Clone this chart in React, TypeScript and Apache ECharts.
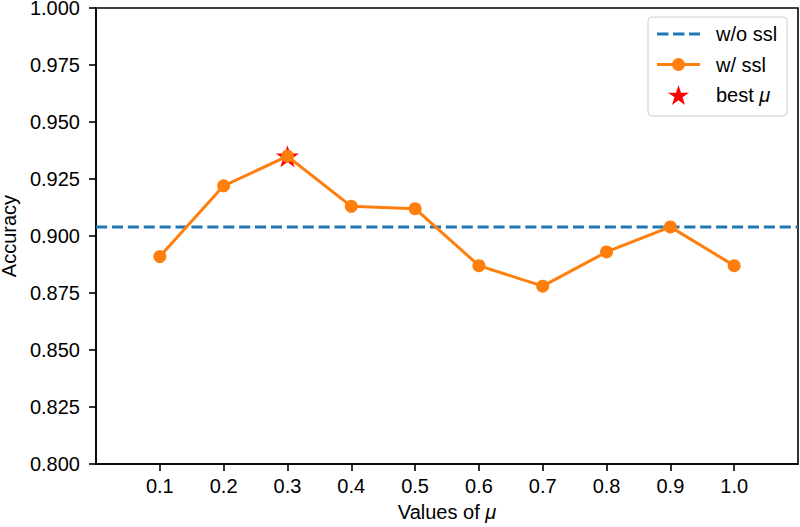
import React, { useEffect, useRef } from 'react';
import * as echarts from 'echarts';

const MU_VALUES = [0.1, 0.2, 0.3, 0.4, 0.5, 0.6, 0.7, 0.8, 0.9, 1.0];
const ACC_WITH_SSL = [0.891, 0.922, 0.935, 0.913, 0.912, 0.887, 0.878, 0.893, 0.904, 0.887];
const ACC_WITHOUT_SSL = 0.904;
const BEST_MU = 0.3;
const BEST_ACC = 0.935;
const X_RANGE = [0, 1.1];
const Y_RANGE = [0.8, 1.0];
const Y_STEP = 0.025;

const FONT = "'Liberation Sans', Arial, Helvetica, sans-serif";
const STAR =
  'path://M0,-1 L0.2245,-0.309 L0.951,-0.309 L0.363,0.118 L0.588,0.809 L0,0.382 L-0.588,0.809 L-0.363,0.118 L-0.951,-0.309 L-0.2245,-0.309 Z';
// legend handles (43 x 20 box, tiny corner marks fix the bounding box)
const ICON_DASHED =
  'path://M0,0h0.01v0.01h-0.01Z M43,19.99h0.01v0.01h-0.01Z M0,8.5H11.5V11.5H0Z M16,8.5H27.5V11.5H16Z M32,8.5H43V11.5H32Z';
const ICON_LINE_DOT =
  'path://M0,0h0.01v0.01h-0.01Z M43,19.99h0.01v0.01h-0.01Z M0,8.5H43V11.5H0Z M28,10A6.5,6.5 0 1 1 15,10A6.5,6.5 0 1 1 28,10Z';

export default function App() {
  const ref = useRef<HTMLDivElement>(null);
  useEffect(() => {
    if (!ref.current) return;
    const chart = echarts.init(ref.current, undefined, { renderer: 'svg' });
    const italic = { fontStyle: 'italic', fontSize: 20, fontFamily: FONT, color: '#000' };
    chart.setOption({
      animation: false,
      backgroundColor: '#fff',
      textStyle: { fontFamily: FONT },
      grid: {
        left: 96,
        right: 2,
        top: 8,
        bottom: 63,
        show: true,
        borderColor: '#000',
        borderWidth: 1.6,
        backgroundColor: 'transparent',
        outerBoundsMode: 'none',
      },
      legend: {
        orient: 'vertical',
        left: 648,
        top: 17,
        data: [
          { name: 'w/o ssl', icon: ICON_DASHED },
          { name: 'w/ ssl', icon: ICON_LINE_DOT },
          { name: 'best μ' },
        ],
        itemWidth: 43,
        itemHeight: 20,
        itemGap: 10.5,
        padding: [7, 10, 11, 9],
        borderColor: '#cccccc',
        borderWidth: 1,
        borderRadius: 4,
        backgroundColor: 'rgba(255,255,255,0.8)',
        formatter: (name: string) => (name === 'best μ' ? 'best {i|μ}' : name),
        textStyle: {
          fontFamily: FONT,
          fontSize: 20,
          lineHeight: 20,
          color: '#000',
          padding: [0, 0, 0, 11],
          rich: { i: italic },
        },
      },
      xAxis: {
        type: 'value',
        min: X_RANGE[0],
        max: X_RANGE[1],
        interval: 0.1,
        name: 'Values of {i|μ}',
        nameLocation: 'middle',
        nameGap: 38,
        nameTextStyle: { fontSize: 20, color: '#000', fontFamily: FONT, rich: { i: italic } },
        axisLine: { show: true, onZero: false, lineStyle: { color: '#000', width: 1.6 } },
        axisTick: {
          show: true,
          inside: false,
          length: 7,
          customValues: MU_VALUES,
          lineStyle: { color: '#000', width: 1.6 },
        },
        axisLabel: {
          customValues: MU_VALUES,
          margin: 12,
          fontSize: 20,
          color: '#000',
          fontFamily: FONT,
          formatter: (v: number) => v.toFixed(1),
        },
        splitLine: { show: false },
      },
      yAxis: {
        type: 'value',
        min: Y_RANGE[0],
        max: Y_RANGE[1],
        interval: Y_STEP,
        name: 'Accuracy',
        nameLocation: 'middle',
        nameGap: 73,
        nameTextStyle: { fontSize: 20, lineHeight: 16, color: '#000', fontFamily: FONT },
        axisLine: { show: true, lineStyle: { color: '#000', width: 1.6 } },
        axisTick: { show: true, inside: false, length: 7, lineStyle: { color: '#000', width: 1.6 } },
        axisLabel: {
          margin: 16,
          fontSize: 20,
          lineHeight: 16,
          color: '#000',
          fontFamily: FONT,
          formatter: (v: number) => v.toFixed(3),
        },
        splitLine: { show: false },
      },
      series: [
        {
          name: 'w/o ssl',
          type: 'line',
          data: [
            [X_RANGE[0], ACC_WITHOUT_SSL],
            [X_RANGE[1], ACC_WITHOUT_SSL],
          ],
          symbol: 'none',
          z: 2,
          lineStyle: { color: '#1f77b4', width: 3, type: [11.1, 4.8] },
          itemStyle: { color: '#1f77b4' },
        },
        {
          name: 'best μ',
          type: 'scatter',
          data: [[BEST_MU, BEST_ACC]],
          symbol: STAR,
          symbolKeepAspect: true,
          symbolSize: 23,
          z: 3,
          itemStyle: { color: '#ff0000', opacity: 1 },
        },
        {
          name: 'w/ ssl',
          type: 'line',
          data: MU_VALUES.map((m, i) => [m, ACC_WITH_SSL[i]]),
          symbol: 'circle',
          symbolSize: 13,
          showSymbol: true,
          z: 4,
          lineStyle: { color: '#ff7f0e', width: 3 },
          itemStyle: { color: '#ff7f0e', opacity: 1 },
        },
      ],
    });
    return () => chart.dispose();
  }, []);
  return (
    <div
      ref={ref}
      style={{ position: 'fixed', left: 0, top: 0, width: 800, height: 527 }}
    />
  );
}
